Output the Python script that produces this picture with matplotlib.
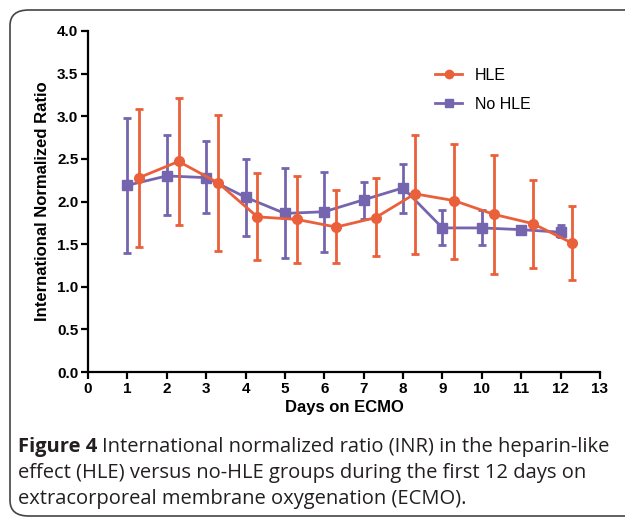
import matplotlib
matplotlib.use("Agg")
from matplotlib import pyplot as plt
from matplotlib.patches import FancyBboxPatch
from matplotlib.lines import Line2D

# INR per day (mean, lower, upper)
days = [1, 2, 3, 4, 5, 6, 7, 8, 9, 10, 11, 12]

hle_mean = [2.28, 2.47, 2.22, 1.82, 1.79, 1.70, 1.81, 2.09, 2.01, 1.85, 1.74, 1.51]
hle_low = [1.47, 1.73, 1.42, 1.31, 1.28, 1.28, 1.36, 1.39, 1.33, 1.15, 1.22, 1.08]
hle_high = [3.09, 3.21, 3.01, 2.34, 2.30, 2.13, 2.27, 2.78, 2.68, 2.54, 2.25, 1.95]

nohle_mean = [2.19, 2.30, 2.28, 2.05, 1.86, 1.88, 2.02, 2.16, 1.69, 1.69, 1.67, 1.64]
nohle_low = [1.40, 1.84, 1.86, 1.60, 1.34, 1.41, 1.80, 1.87, 1.49, 1.49, 1.67, 1.58]
nohle_high = [2.98, 2.78, 2.71, 2.50, 2.39, 2.35, 2.23, 2.44, 1.90, 1.90, 1.67, 1.72]

hle_color = "#E9603A"
nohle_color = "#7565AE"

fig = plt.figure(figsize=(6.25, 5.18), dpi=100)
ax = fig.add_axes([88 / 625, 1 - 372 / 518, 512 / 625, 341 / 518])

hle_x = [d + 0.3 for d in days]
hle_err = [[m - l for m, l in zip(hle_mean, hle_low)],
           [h - m for m, h in zip(hle_mean, hle_high)]]
nohle_err = [[m - l for m, l in zip(nohle_mean, nohle_low)],
             [h - m for m, h in zip(nohle_mean, nohle_high)]]

ax.errorbar(days, nohle_mean, yerr=nohle_err, color=nohle_color, marker="s",
            markersize=6.5, linewidth=2, elinewidth=2, capsize=3, capthick=2,
            zorder=2)
ax.errorbar(hle_x, hle_mean, yerr=hle_err, color=hle_color, marker="o",
            markersize=7, linewidth=2, elinewidth=2, capsize=3, capthick=2,
            zorder=3)

ax.set_xlim(0, 13)
ax.set_ylim(0, 4)
ax.set_xticks(range(0, 14))
ax.set_yticks([0, 0.5, 1, 1.5, 2, 2.5, 3, 3.5, 4])
ax.set_yticklabels(["%.1f" % v for v in ax.get_yticks()])

for s in ["top", "right"]:
    ax.spines[s].set_visible(False)
for s in ["left", "bottom"]:
    ax.spines[s].set_linewidth(1.6)
ax.tick_params(direction="out", length=5, width=1.6, pad=2)
for lab in ax.get_xticklabels() + ax.get_yticklabels():
    lab.set_fontfamily("Liberation Sans")
    lab.set_fontweight("bold")
    lab.set_fontsize(11)

ax.set_xlabel("Days on ECMO", fontfamily="Liberation Sans", fontweight="bold",
              fontsize=12, labelpad=3)
ax.set_ylabel("International Normalized Ratio", fontfamily="Liberation Sans",
              fontweight="bold", fontsize=12, labelpad=5)

handles = [Line2D([], [], color=hle_color, marker="o", markersize=6, linewidth=2),
           Line2D([], [], color=nohle_color, marker="s", markersize=5.5, linewidth=2)]
ax.legend(handles, ["HLE", "No HLE"], loc="upper left",
          bbox_to_anchor=(0.65, 0.935), frameon=False,
          prop={"family": "Liberation Sans", "size": 11.5},
          handlelength=1.7, labelspacing=0.9, handletextpad=0.8)

# caption
cap_font = "Open Sans"
cap_size = 14.5
cap_color = "#231f20"
x0 = 18 / 625
t1 = fig.text(x0, 1 - 452 / 518, "Figure 4", fontfamily=cap_font,
              fontweight="bold", fontsize=cap_size, color=cap_color)
fig.canvas.draw()
bb = t1.get_window_extent()
fig.text((bb.x1 + 5) / 625, 1 - 452 / 518,
         "International normalized ratio (INR) in the heparin-like",
         fontfamily=cap_font, fontsize=cap_size, color=cap_color)
fig.text(x0, 1 - 478 / 518,
         "effect (HLE) versus no-HLE groups during the first 12 days on",
         fontfamily=cap_font, fontsize=cap_size, color=cap_color)
fig.text(x0, 1 - 504 / 518,
         "extracorporeal membrane oxygenation (ECMO).",
         fontfamily=cap_font, fontsize=cap_size, color=cap_color)

# rounded border around the figure panel
border = FancyBboxPatch((10 / 625, 2 / 518), 2.0, 1 - 10 / 518 - 2 / 518,
                        boxstyle="round,pad=0,rounding_size=0.03",
                        transform=fig.transFigure, fill=False,
                        edgecolor="#444444", linewidth=1.2, clip_on=False)
fig.patches.append(border)

plt.savefig("out.png", dpi=100)
